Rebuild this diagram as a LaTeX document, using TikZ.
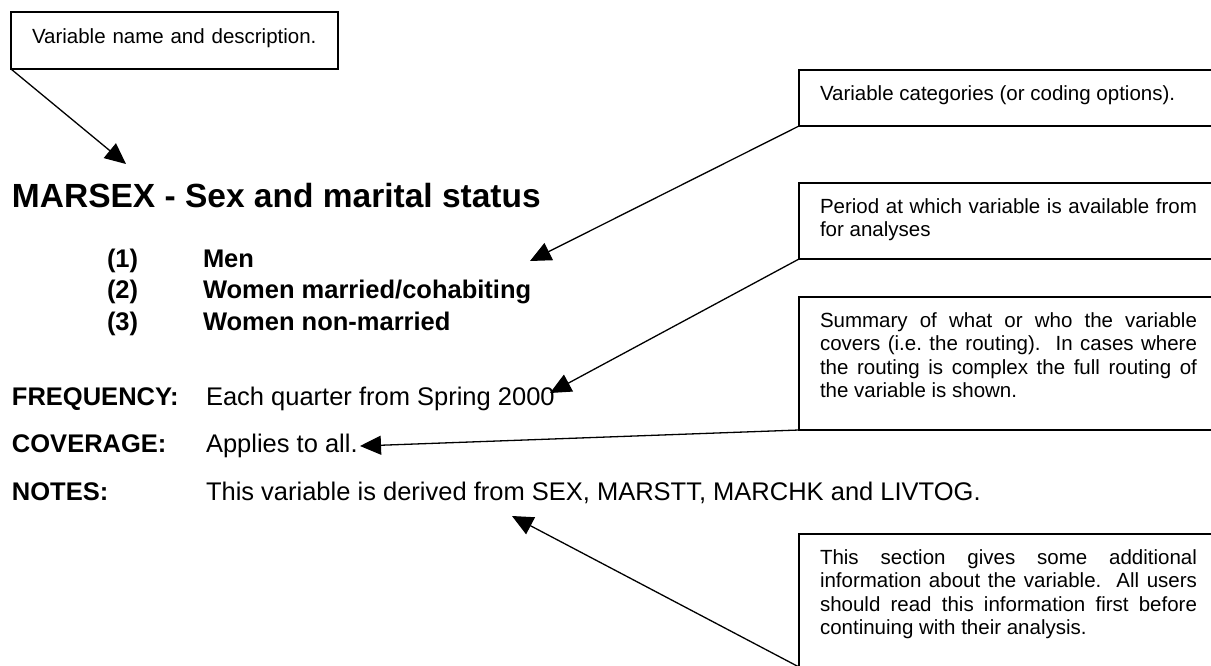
\documentclass[tikz,border=0pt]{standalone}
\usepackage{fontspec}
\setmainfont{Liberation Sans}
\usetikzlibrary{arrows.meta}
\newcommand{\calloutfont}{\fontsize{20.5pt}{23.5pt}\selectfont\frenchspacing}
\newcommand{\entryfont}{\fontsize{25.5pt}{31.5pt}\selectfont}
\newcommand{\headfont}{\fontsize{33.5pt}{38pt}\selectfont\bfseries}

\begin{document}
\begin{tikzpicture}[x=1pt,y=-1pt]
\tikzstyle{every node}+=[inner sep=0pt, outer sep=0pt]
\tikzstyle{callout}=[draw, line width=1.3pt, anchor=north west, inner xsep=21pt, text width=377pt, align=justify, font=\calloutfont, text height=30pt]
\tikzstyle{entry}=[anchor=base west, font=\entryfont]
\tikzstyle{pointer}=[line width=1.3pt, -{Triangle[length=21pt,width=19pt]}]
\path [use as bounding box, fill=white] (0,0) rectangle (1211,665);
\node [callout, text width=285pt, align=left, text height=31pt, text depth=26pt] (namebox) at (11,12) {Variable name and description.};
\node [callout, text depth=26pt] (catbox) at (799,70) {Variable categories (or coding options).};
\node [callout, text depth=46pt] (periodbox) at (799,183) {Period at which variable is available from\linebreak for analyses};
\node [callout, text depth=103pt] (coverbox) at (799,297) {Summary of what or who the variable\linebreak covers (i.e. the routing).\ \ In cases where\linebreak the routing is complex the full routing of\linebreak the variable is shown.};
\node [callout, text depth=103pt] (notesbox) at (799,534) {This section gives some additional\linebreak information about the variable.\ \ All users\linebreak should read this information first before\linebreak continuing with their analysis.};
\node [anchor=base west, font=\headfont] (title) at (12,207) {MARSEX - Sex and marital status};
\node [entry, font=\entryfont\bfseries] (num1) at (107,267) {(1)};
\node [entry, font=\entryfont\bfseries] (cat1) at (203,267) {Men};
\node [entry, font=\entryfont\bfseries] (num2) at (107,298.5) {(2)};
\node [entry, font=\entryfont\bfseries] (cat2) at (203,298.5) {Women married/cohabiting};
\node [entry, font=\entryfont\bfseries] (num3) at (107,330) {(3)};
\node [entry, font=\entryfont\bfseries] (cat3) at (203,330) {Women non-married};
\node [entry, font=\entryfont\bfseries] (freqlabel) at (12,405) {FREQUENCY:};
\node [entry] (freqtext) at (206,405) {Each quarter from Spring 2000};
\node [entry, font=\entryfont\bfseries] (covlabel) at (12,452.5) {COVERAGE:};
\node [entry] (covtext) at (206,452.5) {Applies to all.};
\node [entry, font=\entryfont\bfseries] (noteslabel) at (12,500) {NOTES:};
\node [entry] (notestext) at (206,500) {This variable is derived from SEX, MARSTT, MARCHK and LIVTOG.};
\coordinate (nametip) at (126,164);
\coordinate (cattip) at (530,261);
\coordinate (freqtip) at (550,393);
\coordinate (covtip) at (360,446);
\coordinate (notestip) at (512,516);
\draw [pointer] (namebox.south west) -- (nametip);
\draw [pointer] (catbox.south west) -- (cattip);
\draw [pointer] (periodbox.south west) -- (freqtip);
\draw [pointer] (coverbox.south west) -- (covtip);
\draw [pointer] (notesbox.south west) -- (notestip);
\end{tikzpicture}
\end{document}
